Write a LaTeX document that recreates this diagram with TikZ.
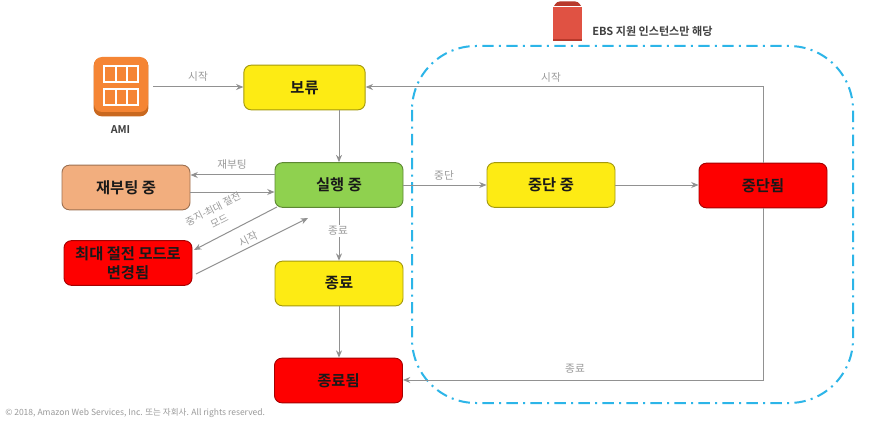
\documentclass[tikz,border=0pt]{standalone}
\usepackage{fontspec}
\setmainfont{Noto Sans CJK KR}
\newfontfamily\boldkr{Noto Sans CJK KR Bold}
\usetikzlibrary{arrows.meta,calc}
\definecolor{lineg}{HTML}{919191}
\definecolor{labelg}{HTML}{9A9A9A}
\definecolor{yel}{HTML}{FDEB14}
\definecolor{grn}{HTML}{8FD14F}
\definecolor{sal}{HTML}{F2AE7E}
\definecolor{redb}{HTML}{FE0000}
\definecolor{regionblue}{HTML}{2CB5E8}
\definecolor{amio}{HTML}{F58534}
\definecolor{amid}{HTML}{C9681F}
\definecolor{ebsr}{HTML}{E05243}
\definecolor{ebsd}{HTML}{B8392B}
\tikzset{
  x=0.75pt,y=-0.75pt,
  statebox/.style={draw=#1!65!black,line width=0.7pt,rounded corners=5.5pt,minimum width=96pt,minimum height=33.5pt,inner sep=0pt,align=center,font=\boldkr\fontsize{11.5}{14.5}\selectfont,text=black!90},
  conn/.style={draw=lineg,line width=0.75pt,-{Stealth[length=5.5pt,width=4.5pt]}},
  lbl/.style={text=labelg,font=\fontsize{8}{10.5}\selectfont,inner sep=0pt,align=center},
}
\begin{document}
\begin{tikzpicture}
\useasboundingbox (0,0) rectangle (881,431);
\fill[white] (0,0) rectangle (881,431);
% dashed region
\draw[regionblue,line width=1.5pt,dash pattern=on 8.5pt off 4pt on 1.5pt off 4pt,rounded corners=48pt] (412,46) rectangle (853,403);
% state boxes
\node[statebox=yel,fill=yel,minimum width=91pt] (pending) at (304.5,87.5) {보류};
\node[statebox=grn,fill=grn] (running) at (339,185) {실행 중};
\node[statebox=sal,fill=sal] (rebooting) at (126,187.5) {재부팅 중};
\node[statebox=redb,fill=redb] (hibernated) at (128,263) {최대 절전 모드로\\변경됨};
\node[statebox=yel,fill=yel] (terminating) at (339,283.5) {종료};
\node[statebox=redb,fill=redb] (terminated) at (338.5,380.5) {종료됨};
\node[statebox=yel,fill=yel] (stopping) at (551,185) {중단 중};
\node[statebox=redb,fill=redb] (stopped) at (763,185.5) {중단됨};
% AMI icon
\node[fill=amid,rounded corners=6pt,minimum width=41pt,minimum height=44pt,inner sep=0pt] (ami) at (121,87) {};
\fill[amio,rounded corners=6pt] (94,57) rectangle (148,112);
\draw[white,line width=1.5pt] (104,66) rectangle (138,82) (115.5,66)--(115.5,82) (126.5,66)--(126.5,82)
  (104,89) rectangle (138,105) (115.5,89)--(115.5,105) (126.5,89)--(126.5,105);
\node[font=\boldkr\fontsize{8}{10}\selectfont,text=black!75,inner sep=0pt] (amilabel) at (120.5,130) {AMI};
% EBS icon
\node[fill=ebsr,minimum width=21.5pt,minimum height=25.5pt,inner sep=0pt] (ebs) at (567.5,24) {};
\fill[ebsd] (554,6) [rounded corners=2pt] -- (557,1.5) -- (578,1.5) [sharp corners] -- (581,6) -- cycle;
\fill[ebsd] (553,39.5) rectangle (582,41);
\node[anchor=west,font=\boldkr\fontsize{8.3}{10}\selectfont,text=black!75,inner sep=0pt] (ebslabel) at (592,31.5) {EBS 지원 인스턴스만 해당};
% free ends
\coordinate (amiout) at (153,87);
\coordinate (hibin) at (194,250);
\coordinate (runhib) at (277,207);
\coordinate (hibout) at (196,274);
\coordinate (runback) at (308,218);
\coordinate (corner1) at (763,87);
\coordinate (corner2) at (763,380);
% connectors
\draw[conn] (amiout) -- (pending.west |- amiout);
\draw[conn] (pending.south -| running.north) -- (running.north);
\draw[conn] (running.west |- 0,175) -- (rebooting.east |- 0,175);
\draw[conn] (rebooting.east |- 0,192) -- (running.west |- 0,192);
\draw[conn] (runhib) -- (hibin);
\draw[conn] (hibout) -- (runback);
\draw[conn] (running.south) -- (terminating.north);
\draw[conn] (terminating.south) -- (terminated.north -| terminating.south);
\draw[conn] (running.east) -- (stopping.west);
\draw[conn] (stopping.east) -- (stopped.west |- stopping.east);
\draw[conn] (stopped.north) -- (corner1) -- (pending.east |- corner1);
\draw[conn] (stopped.south) -- (corner2) -- (terminated.east |- corner2);
% labels
\node[lbl] (l1) at (198,77) {시작};
\node[lbl] (l2) at (232,165) {재부팅};
\node[lbl,rotate=27,font=\fontsize{7.4}{10.5}\selectfont] (l3) at (216,215) {중지-최대 절전\\모드};
\node[lbl,rotate=27] (l4) at (248,239) {시작};
\node[lbl,fill=white,inner sep=1pt] (l5) at (338,231) {종료};
\node[lbl] (l6) at (444,175) {중단};
\node[lbl] (l7) at (551,78) {시작};
\node[lbl] (l8) at (575,369) {종료};
\node[anchor=west,text=labelg,font=\fontsize{6.4}{8}\selectfont,inner sep=0pt] (copy) at (5,413.5) {© 2018, Amazon Web Services, Inc. 또는 자회사. All rights reserved.};
\end{tikzpicture}
\end{document}
